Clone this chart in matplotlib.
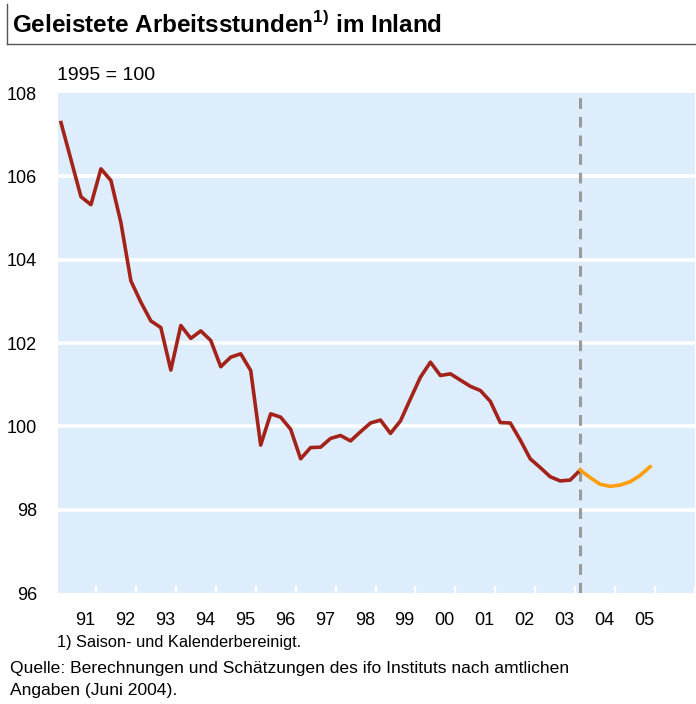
"""
Geleistete Arbeitsstunden im Inland (1995 = 100), quarterly, with ifo forecast.
"""

import matplotlib
matplotlib.use("Agg")
import matplotlib.pyplot as plt
from matplotlib.lines import Line2D

plt.rcParams['font.family'] = ['Liberation Sans', 'DejaVu Sans']
plt.rcParams['mathtext.fontset'] = 'custom'
plt.rcParams['mathtext.bf'] = 'Liberation Sans:bold'
plt.rcParams['mathtext.rm'] = 'Liberation Sans:bold'

# quarterly index values, 1991Q1 .. 2004Q1 (actual)
actual = [107.29, 106.40, 105.51, 105.32,
          106.18, 105.90, 104.89, 103.49,
          102.98, 102.53, 102.37, 101.35,
          102.42, 102.11, 102.29, 102.06,
          101.43, 101.66, 101.74, 101.34,
          99.55, 100.30, 100.22, 99.93,
          99.22, 99.49, 99.50, 99.71,
          99.78, 99.65, 99.87, 100.08,
          100.15, 99.83, 100.13, 100.66,
          101.18, 101.54, 101.22, 101.26,
          101.11, 100.96, 100.86, 100.60,
          100.09, 100.08, 99.67, 99.22,
          99.01, 98.79, 98.69, 98.71,
          98.95]
# forecast, 2004Q1 .. 2005Q4
forecast = [98.95, 98.77, 98.61, 98.56, 98.59, 98.67, 98.82, 99.03]

first_year = 1991
year_labels = ["91", "92", "93", "94", "95", "96", "97", "98",
               "99", "00", "01", "02", "03", "04", "05"]
y_ticks = [96, 98, 100, 102, 104, 106, 108]

RED = "#A3231A"
ORANGE = "#FF9E0D"
BG = "#DEEDFC"


def quarter_pos(start, n):
    # centre of each quarter as fractional year
    return [start + (i + 0.5) / 4 for i in range(n)]


x_act = quarter_pos(first_year, len(actual))
x_fc = quarter_pos(first_year + (len(actual) - 1) / 4, len(forecast))

W, H = 696, 704
fig = plt.figure(figsize=(W / 100, H / 100), dpi=100)
ax = fig.add_axes([58 / W, 1 - 593 / H, (695 - 58) / W, 500 / H])
ax.set_facecolor(BG)

ax.set_ylim(96, 108)
ax.set_xlim(1991.05, 2006.74)
ax.set_yticks(y_ticks)
ax.set_yticklabels([str(t) for t in y_ticks])
for t in y_ticks[1:-1]:
    ax.axhline(t, color="white", lw=2.6, zorder=1)

# year labels between the year boundaries
ax.set_xticks([first_year + i + 0.73 for i in range(len(year_labels))])
ax.set_xticklabels(year_labels)
ax.set_xticks([first_year + i for i in range(1, len(year_labels) + 2)], minor=True)
ax.tick_params(axis='x', which='major', length=0, pad=14, labelsize=13)
ax.tick_params(axis='x', which='minor', direction='in', length=5, width=1.5,
               color="white")
ax.tick_params(axis='y', length=0, pad=15, labelsize=13)
for s in ax.spines.values():
    s.set_visible(False)

ax.plot(x_act, actual, color=RED, lw=2.6, solid_joinstyle='round', zorder=4)
ax.plot(x_fc, forecast, color=ORANGE, lw=2.6, solid_joinstyle='round', zorder=4)
ax.axvline(x_act[-1], color="#9A9A9A", lw=2.2, dashes=(3.5, 2.6), zorder=3)

# title with rule
fig.text(12 / W, 1 - 25 / H, r"Geleistete Arbeitsstunden$^{\mathbf{1)}}$ im Inland",
         fontsize=17.5, fontweight='bold', ha='left', va='center')
fig.add_artist(Line2D([7 / W, 7 / W], [1 - 4 / H, 1 - 44 / H],
                      transform=fig.transFigure, color="#555555", lw=1))
fig.add_artist(Line2D([7 / W, 1.0], [1 - 44 / H, 1 - 44 / H],
                      transform=fig.transFigure, color="#555555", lw=1))

fig.text(57 / W, 1 - 75 / H, "1995 = 100", fontsize=14, ha='left', va='center')

fig.text(57 / W, 1 - 643 / H, "1) Saison- und Kalenderbereinigt.",
         fontsize=11.8, ha='left', va='center')
fig.text(10 / W, 1 - 668 / H,
         "Quelle: Berechnungen und Schätzungen des ifo Instituts nach amtlichen",
         fontsize=12.6, ha='left', va='center')
fig.text(10 / W, 1 - 690 / H, "Angaben (Juni 2004).",
         fontsize=12.6, ha='left', va='center')

fig.savefig("out.png", dpi=100, facecolor="white")
